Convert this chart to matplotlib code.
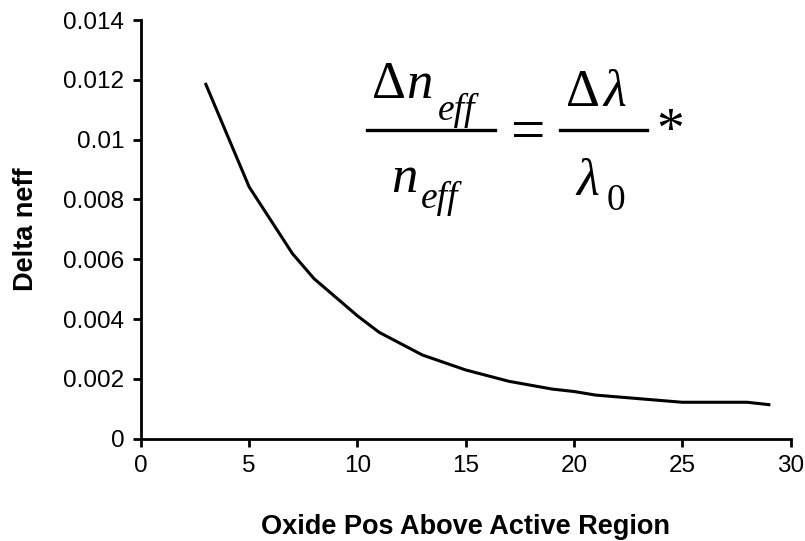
import matplotlib
matplotlib.use("Agg")
import matplotlib.pyplot as plt
from matplotlib.lines import Line2D

# Oxide position above the active region vs change in effective index
oxide_pos = [3, 5, 7, 8, 10, 11, 13, 15, 17, 19, 20, 21, 25, 28, 29]
delta_neff = [0.01185, 0.00842, 0.00619, 0.00535, 0.00411, 0.00356, 0.00280,
              0.00230, 0.00192, 0.00166, 0.00158, 0.00146, 0.00122, 0.00122,
              0.00114]

x_ticks = [0, 5, 10, 15, 20, 25, 30]
y_ticks = [0, 0.002, 0.004, 0.006, 0.008, 0.01, 0.012, 0.014]
y_tick_labels = ['0', '0.002', '0.004', '0.006', '0.008', '0.01', '0.012', '0.014']

plt.rcParams['font.family'] = ['Liberation Sans', 'DejaVu Sans']

W, H = 805, 541
fig = plt.figure(figsize=(W / 100, H / 100), dpi=100)
ax = fig.add_axes([0.175, 0.189, 0.807, 0.774])

ax.plot(oxide_pos, delta_neff, color='black', linewidth=2.2)

ax.set_xlim(0, 30)
ax.set_ylim(0, 0.014)
ax.set_xticks(x_ticks)
ax.set_yticks(y_ticks)
ax.set_yticklabels(y_tick_labels)

for side in ['top', 'right']:
    ax.spines[side].set_visible(False)
for side in ['left', 'bottom']:
    ax.spines[side].set_linewidth(2.0)
ax.tick_params(direction='out', length=6, width=2.0, labelsize=17.5, pad=6)

ax.set_xlabel('Oxide Pos Above Active Region', fontsize=19.5, fontweight='bold', labelpad=26)
ax.set_ylabel('Delta neff', fontsize=19.5, fontweight='bold', labelpad=17)


# equation, laid out piece by piece in pixel positions (y measured from top)
def put(px, py, s, size, ha='left', va='baseline', **kw):
    fig.text(px / W, 1 - py / H, s, fontsize=size, ha=ha, va=va, **kw)


def bar(x0, x1, py):
    fig.add_artist(Line2D([x0 / W, x1 / W], [1 - py / H, 1 - py / H],
                          transform=fig.transFigure, color='black', linewidth=2.4))


serif = 'Liberation Serif'
big, small = 38, 27
# delta n_eff / n_eff
put(372, 98, '\u0394', big, family=serif)
put(406, 98, 'n', big, family=serif, style='italic')
put(438, 120, 'eff', small, family=serif, style='italic')
bar(367, 495, 130)
put(391, 192, 'n', big, family=serif, style='italic')
put(421, 208, 'eff', small, family=serif, style='italic')
# equals sign
put(528, 135, '=', 44, ha='center', va='center', family=serif)
# delta lambda / lambda_0
put(566, 106, '\u0394', big, family=serif)
put(603, 106, '\u03bb', big, family=serif, style='italic')
bar(560, 647, 130)
put(576, 195, '\u03bb', big, family=serif, style='italic')
put(607, 210, '0', small, family=serif)
put(670, 133, '*', 40, ha='center', va='center', family=serif)

fig.savefig('out.png', dpi=100)
